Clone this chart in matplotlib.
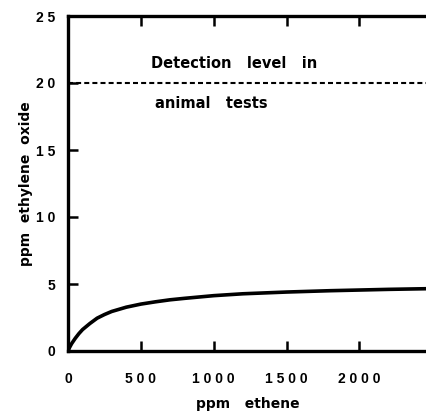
import matplotlib
matplotlib.use("Agg")
import matplotlib.pyplot as plt

# Data
ethene_ppm = [0, 10, 25, 50, 75, 100, 150, 200, 250, 300, 400, 500, 600, 700, 800, 1000, 1200, 1500, 1800, 2000, 2200, 2470]
eo_ppm = [0, 0.25, 0.55, 0.95, 1.3, 1.6, 2.05, 2.45, 2.72, 2.95, 3.27, 3.5, 3.67, 3.82, 3.93, 4.13, 4.27, 4.4, 4.5, 4.55, 4.6, 4.65]
detection_level = 20
x_ticks = [0, 500, 1000, 1500, 2000]
x_ticklabels = ["0", "5 0 0", "1 0 0 0", "1 5 0 0", "2 0 0 0"]
y_ticks = [0, 5, 10, 15, 20, 25]
y_ticklabels = ["0", "5", "1 0", "1 5", "2 0", "2 5"]

plt.rcParams['font.family'] = ['Liberation Sans', 'DejaVu Sans']
fig = plt.figure(figsize=(4.27, 4.12), dpi=100)
ax = fig.add_axes([68/427, 61/412, 1.0 - 68/427 + 0.002, 335/412])

ax.plot(ethene_ppm, eo_ppm, color='black', lw=2.6, solid_capstyle='round')
ax.axhline(detection_level, color='black', lw=1.5, linestyle=(0, (2.4, 1.5)))
wide = ['DejaVu Sans']
ax.text(570, 21.12, "Detection   level   in", fontsize=10.5, fontweight='bold',
        family=wide, ha='left', va='baseline')
ax.text(598, 18.13, "animal   tests", fontsize=10.5, fontweight='bold',
        family=wide, ha='left', va='baseline')

ax.set_xlim(0, 2470)
ax.set_ylim(0, 25)
ax.set_xticks(x_ticks)
ax.set_xticklabels(x_ticklabels)
ax.set_yticks(y_ticks)
ax.set_yticklabels(y_ticklabels)
for lab in ax.get_xticklabels() + ax.get_yticklabels():
    lab.set_fontweight('bold')
ax.tick_params(axis='x', direction='in', length=7, width=1.8, labelsize=10, pad=15, top=True)
ax.tick_params(axis='y', direction='in', length=7, width=1.8, labelsize=10, pad=9)

for s in ['left', 'bottom', 'top']:
    ax.spines[s].set_linewidth(2.4)
ax.spines['right'].set_visible(False)

ax.set_xlabel("ppm   ethene", fontsize=10, fontweight='bold', family=wide, labelpad=8)
ax.set_ylabel("ppm  ethylene  oxide", fontsize=10, fontweight='bold', family=wide, labelpad=2)

fig.savefig("out.png", dpi=100)
